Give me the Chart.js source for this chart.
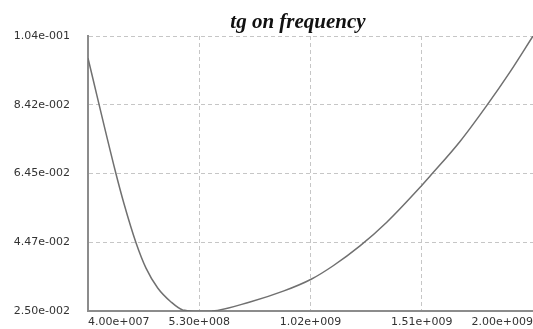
<!DOCTYPE html>
<html>
<head>
<meta charset="utf-8">
<title>tg on frequency</title>
<script src="https://cdn.jsdelivr.net/npm/chart.js@4/dist/chart.umd.min.js"></script>
<style>
    html, body { margin: 0; padding: 0; background: #fff; }
    #wrap { width: 533px; height: 329px; }
</style>
</head>
<body>
<div id="wrap"><canvas id="tgChart"></canvas></div>
<script>
// Loss tangent measured against frequency (Hz)
const frequency = [4.0e7, 1.59e8, 1.986e8, 2.514e8, 2.955e8, 3.47e8, 4.056e8, 4.571e8,
    5.2e8, 5.86e8, 7.535e8, 9.0e8, 1.025e9, 1.12e9, 1.238e9, 1.356e9, 1.512e9, 1.546e9,
    1.6785e9, 1.796e9, 1.899e9, 2.0e9];
const tgValues = [0.0976, 0.0655, 0.0558, 0.0446, 0.0373, 0.0316, 0.0276, 0.0253,
    0.0249, 0.0250, 0.0276, 0.0307, 0.0342, 0.0380, 0.0437, 0.0505, 0.0612, 0.0637,
    0.0737, 0.0840, 0.0937, 0.1040];

// Axis ticks and their printed labels
const xTicks = [4.0e7, 5.3e8, 1.02e9, 1.51e9, 2.0e9];
const xTickLabels = ['4.00e+007', '5.30e+008', '1.02e+009', '1.51e+009', '2.00e+009'];
const yTicks = [0.025, 0.04475, 0.0645, 0.08425, 0.104];
const yTickLabels = ['2.50e-002', '4.47e-002', '6.45e-002', '8.42e-002', '1.04e-001'];

const chartTitle = 'tg on frequency';

const points = frequency.map((f, i) => ({ x: f, y: tgValues[i] }));

// draws the title a bit left of the plot centre
const titlePlugin = {
    id: 'plotTitle',
    afterDraw(chart) {
        const ctx = chart.ctx;
        ctx.save();
        ctx.font = 'italic bold 21px "Liberation Serif"';
        ctx.fillStyle = '#111';
        ctx.textAlign = 'center';
        ctx.textBaseline = 'alphabetic';
        ctx.fillText(chartTitle, 298, 28);
        ctx.restore();
    }
};

const gridStyle = { color: '#c6c6c6', lineWidth: 1, drawTicks: false };
const tickFont = { family: '"DejaVu Sans"', size: 11 };

// keep label overhang from shrinking the plot area
function noPadding(scale) {
    scale.paddingLeft = 0;
    scale.paddingRight = 0;
    scale.paddingTop = 0;
    scale.paddingBottom = 0;
}

new Chart(document.getElementById('tgChart'), {
    type: 'line',
    data: {
        datasets: [{
            data: points,
            borderColor: '#707070',
            borderWidth: 1.5,
            pointRadius: 0,
            fill: false,
            cubicInterpolationMode: 'monotone'
        }]
    },
    options: {
        responsive: true,
        maintainAspectRatio: false,
        animation: false,
        layout: { padding: { top: 36, left: 0, right: 0, bottom: 0 } },
        plugins: {
            legend: { display: false },
            tooltip: { enabled: false }
        },
        scales: {
            x: {
                type: 'linear',
                min: xTicks[0],
                max: xTicks[xTicks.length - 1],
                afterBuildTicks: scale => { scale.ticks = xTicks.map(v => ({ value: v })); },
                afterFit: scale => { scale.height = 18; noPadding(scale); },
                grid: gridStyle,
                border: { display: true, color: '#8c8c8c', width: 2, dash: [4, 3] },
                ticks: {
                    align: 'inner',
                    padding: 5,
                    color: '#333',
                    font: tickFont,
                    maxRotation: 0,
                    callback: (v, i) => xTickLabels[i]
                }
            },
            y: {
                min: yTicks[0],
                max: yTicks[yTicks.length - 1],
                afterBuildTicks: scale => { scale.ticks = yTicks.map(v => ({ value: v })); },
                afterFit: scale => { scale.width = 88; noPadding(scale); },
                grid: gridStyle,
                border: { display: true, color: '#8c8c8c', width: 2, dash: [4, 3] },
                ticks: {
                    padding: 18,
                    color: '#333',
                    font: tickFont,
                    callback: (v, i) => yTickLabels[i]
                }
            }
        }
    },
    plugins: [titlePlugin]
});
</script>
</body>
</html>
